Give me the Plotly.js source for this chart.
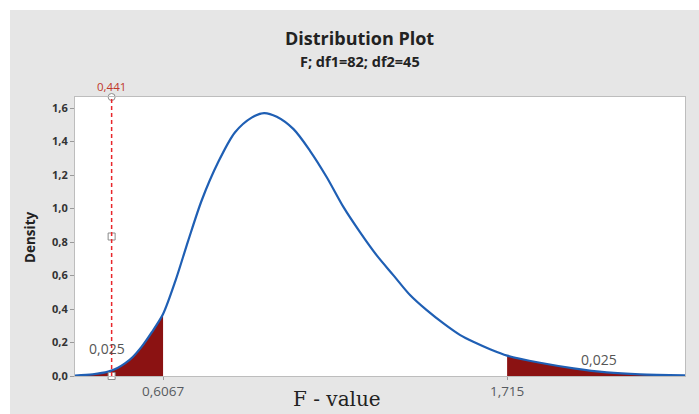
<!DOCTYPE html>
<html>
<head>
<meta charset="utf-8">
<script src="https://cdn.plot.ly/plotly-3.0.1.min.js"></script>
<style>
  html, body { margin: 0; padding: 0; background: #ffffff; }
  #chart { position: absolute; left: 10px; top: 10px; width: 689px; height: 404px; }
</style>
</head>
<body>
<div id="chart"></div>
<script>
// Density curve
const fValues = [0.323, 0.38, 0.43, 0.46, 0.484, 0.51, 0.538, 0.57, 0.6067, 0.647, 0.688, 0.731, 0.784, 0.838, 0.892, 0.932, 0.973, 1.027, 1.080, 1.134, 1.188, 1.241, 1.295, 1.349, 1.403, 1.456, 1.510, 1.564, 1.606, 1.660, 1.715, 1.821, 1.929, 2.036, 2.143, 2.288];
const density = [0.003, 0.010, 0.026, 0.048, 0.075, 0.115, 0.175, 0.26, 0.37, 0.571, 0.81, 1.048, 1.276, 1.454, 1.543, 1.570, 1.548, 1.474, 1.345, 1.187, 1.008, 0.859, 0.72, 0.601, 0.482, 0.393, 0.314, 0.244, 0.204, 0.16, 0.122, 0.079, 0.046, 0.022, 0.010, 0.004];
const lowerCrit = 0.6067;
const upperCrit = 1.715;
const refLine = 0.441;
const tailArea = "0,025";
const xTickVals = [0.6067, 1.715];
const xTickText = ["0,6067", "1,715"];
const yMax = 1.666;

const leftX = [], leftY = [], rightX = [], rightY = [];
fValues.forEach((x, i) => {
  if (x <= lowerCrit) { leftX.push(x); leftY.push(density[i]); }
  if (x >= upperCrit) { rightX.push(x); rightY.push(density[i]); }
});

const fillColor = "#8b1212";
const traces = [
  { x: leftX, y: leftY, type: "scatter", mode: "lines", fill: "tozeroy",
    fillcolor: fillColor, line: { color: fillColor, width: 0, shape: "spline" }, hoverinfo: "skip" },
  { x: rightX, y: rightY, type: "scatter", mode: "lines", fill: "tozeroy",
    fillcolor: fillColor, line: { color: fillColor, width: 0, shape: "spline" }, hoverinfo: "skip" },
  { x: fValues, y: density, type: "scatter", mode: "lines",
    line: { color: "#1f5fb4", width: 2.2, shape: "spline", smoothing: 0.8 } },
  { x: [refLine, refLine], y: [0, yMax / 2], type: "scatter", mode: "markers", cliponaxis: false,
    marker: { symbol: "square", size: 7, color: "#ffffff", line: { color: "#8a8a8a", width: 1 } } },
  { x: [refLine], y: [yMax], type: "scatter", mode: "markers", cliponaxis: false,
    marker: { symbol: "circle", size: 7, color: "#ffffff", line: { color: "#8a8a8a", width: 1 } } }
];

const layout = {
  width: 689, height: 404,
  margin: { l: 65, r: 14, t: 87, b: 38 },
  paper_bgcolor: "#e6e6e6",
  plot_bgcolor: "#ffffff",
  separators: ",.",
  showlegend: false,
  font: { family: "Open Sans, sans-serif", color: "#333333" },
  xaxis: {
    range: [0.323, 2.288], tickvals: xTickVals, ticktext: xTickText,
    showgrid: false, zeroline: false, showline: true, mirror: true, linecolor: "#bdbdbd", linewidth: 1,
    ticks: "outside", ticklen: 3, tickcolor: "#9a9a9a",
    tickfont: { size: 13.5, color: "#565a60" }
  },
  yaxis: {
    range: [0, yMax], tickvals: [0, 0.2, 0.4, 0.6, 0.8, 1.0, 1.2, 1.4, 1.6], tickformat: ".1f",
    showgrid: false, zeroline: false, showline: true, mirror: true, linecolor: "#bdbdbd", linewidth: 1,
    ticks: "outside", ticklen: 4, tickcolor: "#9a9a9a",
    tickfont: { size: 11, color: "#333333", weight: "bold" }
  },
  shapes: [
    { type: "line", xref: "x", yref: "y", x0: refLine, x1: refLine, y0: 0, y1: yMax,
      line: { color: "#e8262b", width: 1.5, dash: "4px,3px" } }
  ],
  annotations: [
    { xref: "paper", yref: "paper", x: 0.467, y: 1.2115, text: "<b>Distribution Plot</b>", showarrow: false,
      font: { size: 18, color: "#222222" }, xanchor: "center", yanchor: "middle" },
    { xref: "paper", yref: "paper", x: 0.467, y: 1.129, text: "<b>F; df1=82; df2=45</b>", showarrow: false,
      font: { size: 14.5, color: "#222222" }, xanchor: "center", yanchor: "middle" },
    { xref: "paper", yref: "paper", x: -0.0738, y: 0.498, text: "<b>Density</b>", textangle: -90, showarrow: false,
      font: { size: 13.5, color: "#222222" }, xanchor: "center", yanchor: "middle" },
    { xref: "paper", yref: "paper", x: 0.4295, y: -0.082, text: "F - value", showarrow: false,
      font: { family: "DejaVu Serif, serif", size: 20, color: "#222222" }, xanchor: "center", yanchor: "middle" },
    { xref: "x", yref: "paper", x: refLine, y: 1.0, text: "0,441", showarrow: false,
      font: { size: 11.5, color: "#c0392b" }, xanchor: "center", yanchor: "bottom", yshift: 1 },
    { xref: "x", yref: "y", x: 0.426, y: 0.167, text: tailArea, showarrow: false,
      font: { size: 14, color: "#555555" }, xanchor: "center", yanchor: "middle" },
    { xref: "x", yref: "y", x: 2.011, y: 0.10, text: tailArea, showarrow: false,
      font: { size: 14, color: "#555555" }, xanchor: "center", yanchor: "middle" }
  ]
};

Plotly.newPlot("chart", traces, layout, { displayModeBar: false, staticPlot: true });
</script>
</body>
</html>
